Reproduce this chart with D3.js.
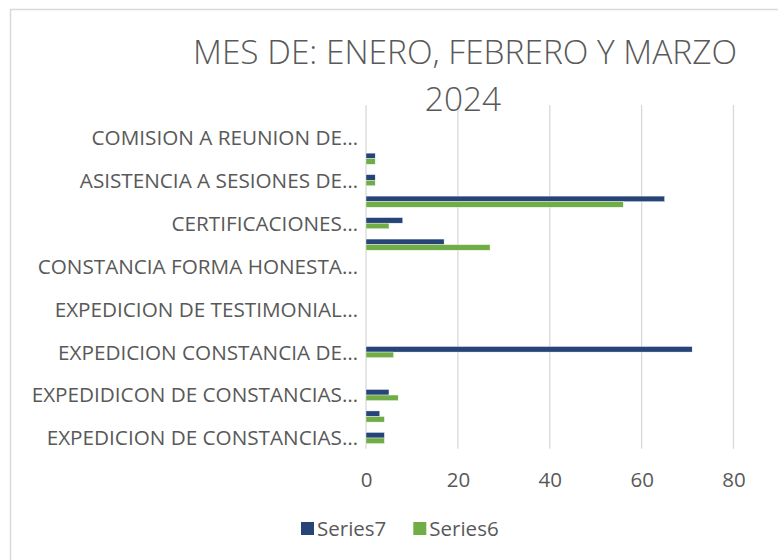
<!DOCTYPE html>
<html>
<head>
<meta charset="utf-8">
<script src="https://cdn.jsdelivr.net/npm/d3@7"></script>
<style>
  html, body { margin: 0; padding: 0; background: #fff; }
  svg { display: block; font-family: "Open Sans", sans-serif; }
</style>
</head>
<body>
<svg id="chart" width="778" height="560"></svg>
<script>
// Categories listed top to bottom as shown (unlabelled rows are skipped labels)
const categories = [
  "",
  "COMISION A REUNION DE…",
  "",
  "ASISTENCIA A SESIONES DE…",
  "",
  "CERTIFICACIONES…",
  "",
  "CONSTANCIA FORMA HONESTA…",
  "",
  "EXPEDICION DE TESTIMONIAL…",
  "",
  "EXPEDICION CONSTANCIA DE…",
  "",
  "EXPEDIDICON DE CONSTANCIAS…",
  "",
  "EXPEDICION DE CONSTANCIAS…"
];
const series7 = [0, 0, 2, 2, 65, 8, 17, 0, 0, 0, 0, 71, 0, 5, 3, 4];
const series6 = [0, 0, 2, 2, 56, 5, 27, 0, 0, 0, 0, 6, 0, 7, 4, 4];
const xTicks = [0, 20, 40, 60, 80];
const seriesNames = ["Series7", "Series6"];
const titleLines = ["MES DE: ENERO, FEBRERO Y MARZO", "2024"];

const colors = { Series7: "#264478", Series6: "#70AD47" };
const textColor = "#595959";
const gridColor = "#d9d9d9";

const svg = d3.select("#chart");

// chart area border (extends past the right/bottom of the view)
svg.append("rect")
  .attr("x", 10.5).attr("y", 9.5)
  .attr("width", 800).attr("height", 600)
  .attr("fill", "#fff").attr("stroke", gridColor).attr("stroke-width", 1.5);

const plot = { left: 366, right: 733.5, top: 105, bottom: 448.75 };

const x = d3.scaleLinear().domain([0, 80]).range([plot.left, plot.right]);
const y = d3.scaleBand().domain(d3.range(categories.length)).range([plot.top, plot.bottom]).paddingInner(0.48).paddingOuter(0.24);
const ySub = d3.scaleBand().domain(seriesNames).range([0, y.bandwidth()]);

// gridlines
svg.append("g").selectAll("line").data(xTicks).join("line")
  .attr("x1", d => x(d)).attr("x2", d => x(d))
  .attr("y1", plot.top).attr("y2", plot.bottom)
  .attr("stroke", gridColor).attr("stroke-width", 1.3);

// bars
const rows = categories.map((c, i) => ({ i, vals: [
  { s: "Series7", v: series7[i] },
  { s: "Series6", v: series6[i] }
]}));
const g = svg.append("g").selectAll("g").data(rows).join("g")
  .attr("transform", d => `translate(0,${y(d.i)})`);
g.selectAll("rect").data(d => d.vals.filter(e => e.v > 0)).join("rect")
  .attr("x", x(0))
  .attr("y", e => ySub(e.s))
  .attr("width", e => x(e.v) - x(0))
  .attr("height", ySub.bandwidth())
  .attr("fill", e => colors[e.s])
  .attr("stroke", "#fff").attr("stroke-width", 0.4);

// category axis labels
const yAxis = d3.axisLeft(y).tickSize(0).tickPadding(0).tickFormat(i => categories[i]);
const ya = svg.append("g").attr("transform", `translate(358,0)`).call(yAxis);
ya.select(".domain").remove();
ya.selectAll("text").attr("fill", textColor).attr("font-size", 20.7)
  .attr("font-family", "Open Sans, sans-serif").attr("dy", "0.36em");

// value axis labels
const xAxis = d3.axisBottom(x).tickValues(xTicks).tickSize(0).tickPadding(0);
const xa = svg.append("g").attr("transform", `translate(0,${plot.bottom})`).call(xAxis);
xa.select(".domain").remove();
xa.selectAll("text").attr("fill", textColor).attr("font-size", 20.5)
  .attr("font-family", "Open Sans, sans-serif").attr("dy", null).attr("y", 38);

// title (sized so that the first line spans the same width as the original)
const t1 = svg.append("text").attr("x", 465).attr("y", 64).attr("text-anchor", "middle")
  .attr("font-size", 32).attr("font-weight", 300).attr("fill", textColor)
  .text(titleLines[0]);
const titleSize = 32 * 544 / t1.node().getComputedTextLength();
t1.attr("font-size", titleSize);
svg.append("text").attr("x", 463).attr("y", 111).attr("text-anchor", "middle")
  .attr("font-size", titleSize).attr("font-weight", 300).attr("fill", textColor)
  .text(titleLines[1]);

// legend
const leg = svg.append("g");
let cx = 301;
seriesNames.forEach(name => {
  leg.append("rect").attr("x", cx).attr("y", 522).attr("width", 13).attr("height", 13)
    .attr("fill", colors[name]);
  const t = leg.append("text").attr("x", cx + 16).attr("y", 535.5)
    .attr("font-size", 20.5).attr("fill", textColor).text(name);
  cx += 16 + t.node().getComputedTextLength() + 27;
});
</script>
</body>
</html>
